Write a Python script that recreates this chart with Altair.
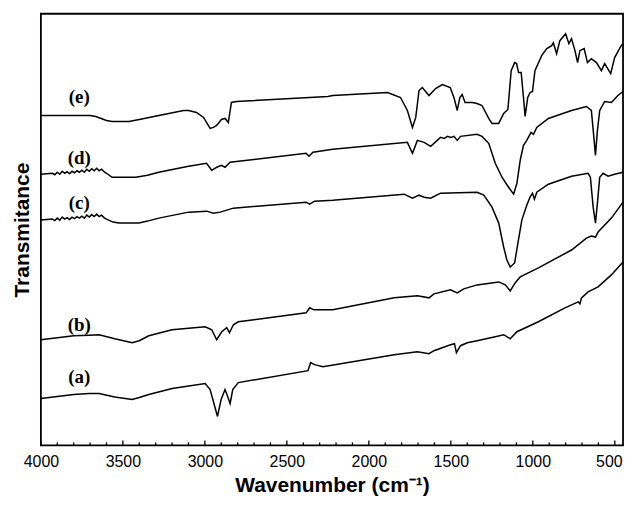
import altair as alt
import pandas as pd

# ---- data (wavenumber, transmittance in arbitrary units) ----
e_w = [4000, 3700, 3665, 3600, 3566, 3463, 3400, 3281, 3130, 3099, 3051, 3008, 2968, 2948, 2928, 2899, 2877,
       2857, 2838, 2808,
       2250, 2220, 1886, 1807, 1765, 1734, 1714, 1694, 1674, 1633, 1593, 1552, 1504, 1481, 1461, 1445, 1431,
       1413, 1370, 1340, 1310, 1269, 1249, 1208, 1178, 1152, 1132, 1111, 1099, 1087, 1071, 1057, 1047, 1031,
       1017, 1002, 987, 946, 915, 885, 875, 855, 835, 800, 780, 764, 743, 727, 713, 687, 667, 643, 612, 582,
       562, 525, 501, 461, 450]
e_t = [331, 331, 330, 326, 325, 325, 327, 331, 336, 336, 334, 329, 318, 319, 321, 327, 328,
       324, 344, 345,
       350, 351, 354, 349, 336, 319, 329, 356, 359, 351, 358, 362, 359, 349, 336, 349, 352,
       344, 344, 343, 341, 328, 323, 323, 333, 337, 376, 384, 383, 374, 374, 349, 330, 349,
       354, 355, 376, 391, 398, 401, 404, 393, 406, 413, 403, 408, 396, 384, 396, 398, 384, 388, 384, 376,
       383, 373, 389, 401, 403]

d_w = [4000, 3930, 3915, 3900, 3885, 3870, 3855, 3840, 3825, 3810, 3795, 3780, 3765, 3750, 3735, 3720, 3705,
       3690, 3675, 3660, 3645, 3630, 3615, 3600, 3566, 3421, 3350, 3281, 3130, 3099,
       2990, 2958, 2928, 2899, 2877, 2846, 2383, 2365, 2341, 2220, 1765, 1734, 1704, 1663, 1623, 1563, 1540,
       1520, 1500, 1481, 1461, 1441, 1340, 1310, 1269, 1229, 1188, 1148, 1117, 1097, 1077, 1057, 1037, 1011,
       996, 976, 905, 764, 673, 643, 626, 618, 606, 592, 562, 521, 481, 450]
d_t = [272, 273, 271.5, 274, 272, 275, 273, 274.5, 272.5, 275, 273.5, 275.5, 274, 276, 274, 277, 275,
       277.5, 275.5, 278, 275.5, 277, 274.5, 273, 269, 269, 271, 274, 279, 280,
       283, 276, 279, 281, 279, 284, 293, 290, 294, 297, 304, 293, 306, 304, 300, 309, 308,
       310, 309, 310, 306, 310, 312, 310, 303, 283, 269, 259, 252, 263, 286, 301, 306, 314,
       312, 319, 328, 336, 340, 336, 306, 291, 316, 336, 345, 344, 351, 355]

c_w = [4000, 3930, 3915, 3900, 3885, 3870, 3855, 3840, 3825, 3810, 3795, 3780, 3765, 3750, 3735, 3720, 3705,
       3690, 3675, 3660, 3645, 3630, 3615, 3600, 3560, 3524, 3402, 3350, 3281, 3099, 2988,
       2948, 2907, 2826, 2382, 2361, 2331, 2220, 1785, 1734, 1694, 1663, 1623, 1563, 1340, 1299, 1249, 1208,
       1178, 1158, 1138, 1111, 1091, 1067, 1037, 1017, 1002, 990, 976, 905, 764, 663, 649, 632, 618, 606,
       592, 571, 541, 501, 450]
c_t = [226, 227, 225.5, 228, 226, 229, 227, 228.5, 226.5, 229, 227.5, 229.5, 228, 230, 228, 231, 229,
       231.5, 229.5, 232, 229.5, 231, 228.5, 227, 224, 223, 223, 225, 228, 234, 235,
       233, 234, 238, 244, 242, 245, 246, 252, 248, 251, 249, 248, 253, 254, 251, 239, 223,
       199, 186, 179, 183, 203, 226, 241, 249, 253, 247, 254, 262, 270, 273, 269, 239, 223, 243,
       269, 273, 270, 272, 274]

b_w = [4000, 3900, 3800, 3706, 3645, 3550, 3443, 3400, 3342, 3200, 2998, 2958, 2928, 2897, 2867, 2850, 2826,
       2796, 2382, 2361, 2335,
       2220, 1845, 1704, 1633, 1603, 1502, 1461, 1421, 1340, 1208, 1168, 1138, 1108, 1077, 966, 764, 673,
       643, 618, 602, 521, 450]
b_t = [106, 108, 110, 110.5, 111, 107, 103, 105, 110, 116, 119, 116, 106, 114, 118, 113, 121,
       124, 133, 138, 136,
       136, 148, 150, 148, 152, 156, 153, 157, 161, 164, 161, 155, 163, 169, 178, 196, 208,
       210, 209, 214, 228, 244]

a_w = [4000, 3900, 3800, 3706, 3645, 3550, 3443, 3400, 3342, 3200, 2998, 2968, 2948, 2923, 2901, 2877, 2861,
       2846, 2830, 2796, 2371,
       2355, 2331, 2280, 1845, 1704, 1633, 1603, 1502, 1478, 1466, 1441, 1400, 1340, 1229, 1178, 1138, 1097,
       966, 804, 723, 713, 703, 663, 602, 521, 450]
a_t = [47, 49, 51, 52, 52, 48.5, 46, 48, 51, 57, 62, 56, 44, 29, 46, 56, 49,
       42, 56, 63, 75,
       83, 81, 79, 91, 94, 92, 95, 101, 102, 93, 100, 103, 105, 109, 111, 107, 114,
       124, 138, 144, 142, 148, 154, 159, 171, 184]

series_names = ["(a)", "(b)", "(c)", "(d)", "(e)"]
label_w = [3766, 3766, 3766, 3766, 3766]
label_t = [69, 121, 243, 288, 349]

major_ticks = [4000, 3500, 3000, 2500, 2000, 1500, 1000, 500]
minor_ticks = [v for v in range(3900, 450, -100) if v % 500 != 0]

# ---- build tables ----
rows = []
for name, ws, ts in zip(series_names, [a_w, b_w, c_w, d_w, e_w], [a_t, b_t, c_t, d_t, e_t]):
    for i, (w, t) in enumerate(zip(ws, ts)):
        rows.append({"series": name, "w": w, "t": t, "i": i})
spec_df = pd.DataFrame(rows)
lab_df = pd.DataFrame({"label": series_names, "w": label_w, "t": label_t})
maj_df = pd.DataFrame({"w": major_ticks})
min_df = pd.DataFrame({"w": minor_ticks})

xscale = alt.Scale(domain=[450, 4000], reverse=True, nice=False, zero=False)
yscale = alt.Scale(domain=[0, 433], nice=False, zero=False)

xaxis = alt.Axis(values=major_ticks, format="d", ticks=False, tickSize=0, domain=False, grid=False,
                 labelFlush=False, labelPadding=8, labelFont="Liberation Sans", labelFontSize=16,
                 labelOffset=alt.condition("datum.value <= 500", alt.value(-6), alt.value(0)),
                 labelColor="black", title="Wavenumber (cm\u207b\u00b9)", titleFont="Liberation Sans",
                 titleFontSize=21, titleFontWeight="bold", titleColor="black", titlePadding=5)
yaxis = alt.Axis(labels=False, ticks=False, tickSize=0, domain=False, grid=False,
                 title="Transmitance", titleFont="Liberation Sans", titleFontSize=21,
                 titleFontWeight="bold", titleColor="black", titlePadding=8)

lines = alt.Chart(spec_df).mark_line(color="black", strokeWidth=1.5).encode(
    x=alt.X("w:Q", scale=xscale, axis=xaxis),
    y=alt.Y("t:Q", scale=yscale, axis=yaxis),
    detail="series:N",
    order="i:Q",
)

labels = alt.Chart(lab_df).mark_text(font="Liberation Serif", fontWeight="bold", fontSize=19,
                                     color="black").encode(
    x=alt.X("w:Q", scale=xscale),
    y=alt.Y("t:Q", scale=yscale),
    text="label:N",
)

maj = alt.Chart(maj_df).mark_rule(color="black", strokeWidth=1.3).encode(
    x=alt.X("w:Q", scale=xscale),
    y=alt.datum(0),
    y2=alt.datum(5),
)
mnr = alt.Chart(min_df).mark_rule(color="black", strokeWidth=1.3).encode(
    x=alt.X("w:Q", scale=xscale),
    y=alt.datum(0),
    y2=alt.datum(3),
)

chart = alt.layer(lines, maj, mnr, labels).properties(
    width=584, height=433,
    padding={"left": 4, "top": 5, "right": 0, "bottom": 0},
    background="white",
).configure_view(stroke="black", strokeWidth=1.8)

chart.save("out.html", embed_options={"renderer": "svg", "actions": False})
